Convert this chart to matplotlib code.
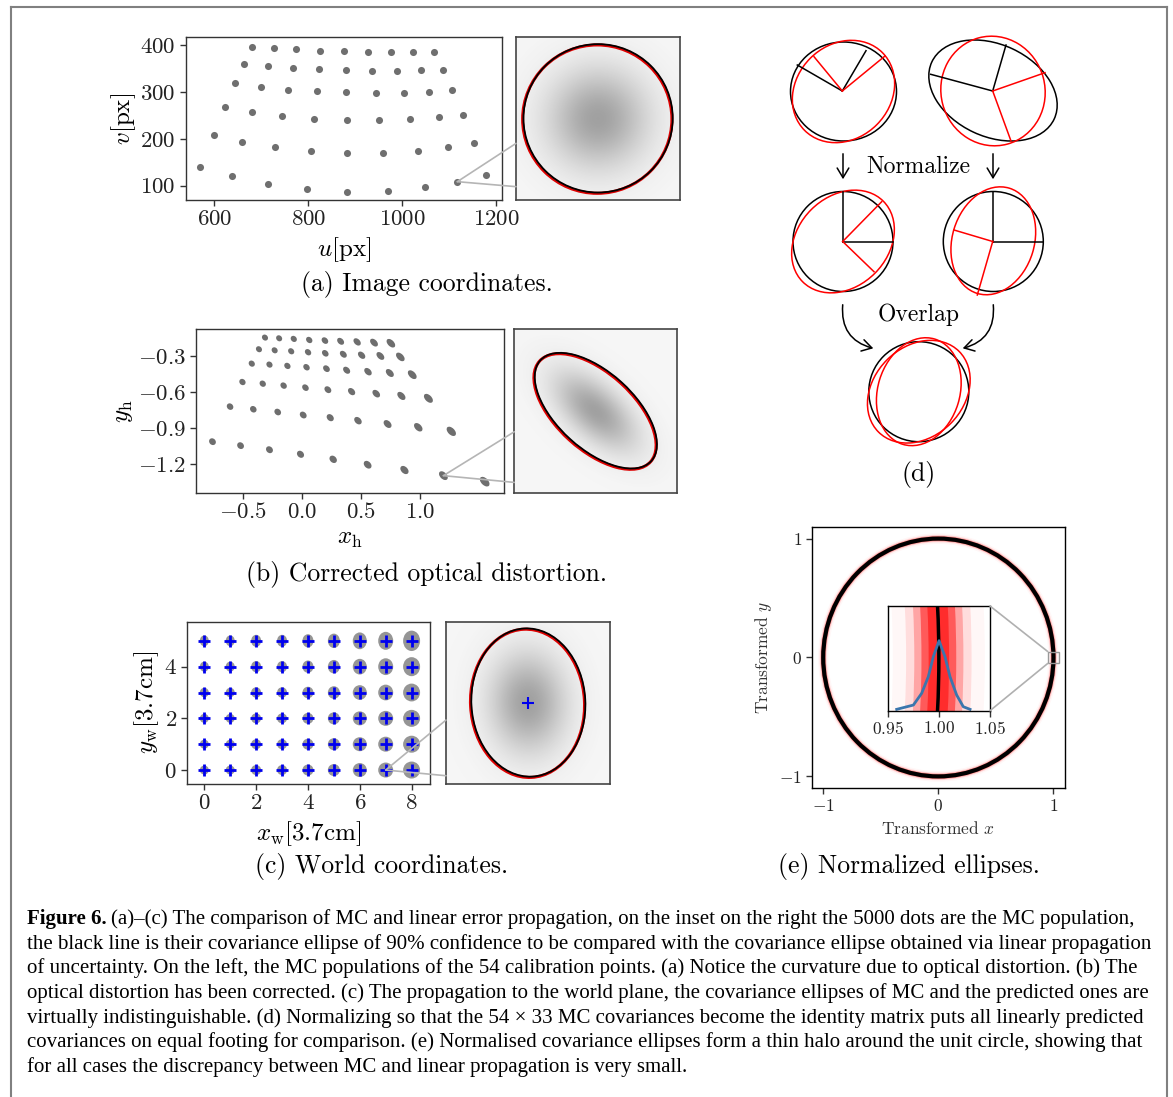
import numpy as np
import matplotlib.pyplot as plt
from matplotlib.patches import Ellipse, Circle, Wedge, Rectangle, FancyArrowPatch, ConnectionPatch
from matplotlib.collections import EllipseCollection
from matplotlib.lines import Line2D

# LaTeX-like look for the panels
plt.rcParams['font.family'] = 'serif'
plt.rcParams['font.serif'] = ['cmr10']
plt.rcParams['mathtext.fontset'] = 'cm'
plt.rcParams['axes.formatter.use_mathtext'] = True

# ---------------- data ----------------
# (a) image coordinates of the 54 calibration points (6 rows x 9 columns)
u_a = [[679.8, 726.0, 774.7, 825.8, 876.8, 927.9, 976.5, 1023.6, 1066.7],
       [663.8, 713.3, 766.7, 822.6, 879.2, 935.9, 989.3, 1039.6, 1085.8],
       [644.7, 698.9, 756.4, 817.8, 880.8, 943.8, 1002.9, 1057.1, 1106.6],
       [622.3, 680.6, 744.4, 813.0, 882.4, 951.0, 1016.4, 1077.0, 1129.7],
       [598.4, 659.8, 730.0, 805.8, 883.2, 959.8, 1032.4, 1096.2, 1152.9],
       [570.5, 637.5, 714.1, 797.8, 883.2, 968.6, 1047.6, 1117.0, 1177.6]]
v_a = [[396.4, 393.6, 390.8, 387.9, 386.5, 385.1, 384.4, 384.4, 384.4],
       [360.2, 355.9, 351.7, 348.1, 346.7, 345.3, 345.3, 346.0, 347.4],
       [318.2, 311.1, 304.7, 301.2, 299.1, 298.3, 298.3, 300.5, 303.3],
       [267.8, 257.1, 248.6, 242.9, 240.1, 239.3, 241.5, 245.7, 251.4],
       [208.1, 193.8, 181.8, 173.2, 169.7, 169.7, 174.0, 181.8, 191.7],
       [140.5, 121.3, 104.3, 92.9, 87.2, 89.3, 97.2, 108.5, 122.8]]

# (b) undistorted homogeneous coordinates
x_b = [[-0.311, -0.191, -0.067, 0.064, 0.197, 0.330, 0.470, 0.613, 0.756],
       [-0.362, -0.229, -0.089, 0.054, 0.200, 0.353, 0.508, 0.667, 0.836],
       [-0.423, -0.273, -0.121, 0.041, 0.210, 0.381, 0.562, 0.747, 0.937],
       [-0.502, -0.330, -0.153, 0.032, 0.222, 0.423, 0.632, 0.845, 1.074],
       [-0.607, -0.410, -0.203, 0.013, 0.242, 0.477, 0.728, 0.988, 1.268],
       [-0.756, -0.518, -0.273, -0.010, 0.267, 0.559, 0.871, 1.201, 1.551]]
y_b = [[-0.147, -0.153, -0.158, -0.167, -0.172, -0.178, -0.183, -0.189, -0.194],
       [-0.244, -0.253, -0.261, -0.269, -0.278, -0.286, -0.294, -0.300, -0.308],
       [-0.364, -0.372, -0.383, -0.394, -0.406, -0.419, -0.431, -0.442, -0.456],
       [-0.517, -0.531, -0.547, -0.564, -0.581, -0.597, -0.614, -0.633, -0.653],
       [-0.722, -0.744, -0.767, -0.792, -0.814, -0.839, -0.867, -0.894, -0.928],
       [-1.014, -1.047, -1.081, -1.119, -1.161, -1.206, -1.250, -1.297, -1.347]]
blob_b_major = [6.5, 6.5, 6.7, 7.0, 7.4, 8.0, 8.6, 9.4, 10.5]      # px, per column
blob_b_minor = [5.6, 5.6, 5.6, 5.6, 5.7, 5.7, 5.8, 5.9, 6.2]
blob_b_row = [1.0, 1.0, 1.02, 1.04, 1.08, 1.12]

# (c) world coordinates
x_c = [0, 1, 2, 3, 4, 5, 6, 7, 8]
y_c = [0, 1, 2, 3, 4, 5]
blob_c_w = [9, 9, 10, 10, 11, 12, 14, 15, 17]   # px, per column
blob_c_row = [1.0, 1.0, 1.0, 1.05, 1.12, 1.2]

# zoomed MC clouds: (semi-axis 1, semi-axis 2, angle) in inset units
cloud_a = (0.913, 0.912, 0)
cloud_b = (0.92, 0.47, -42)
cloud_c = (0.695, 0.914, 3)
zoom_pt_a = (1117.0, 108.5)
zoom_pt_b = (1.201, -1.297)
zoom_pt_c = (7, 0)

# (d) schematic, pixel coordinates: (cx, cy, width, height, angle)
d_black = [(843.5, 91.5, 106, 99, 0), (993.0, 90.5, 135, 92, -25),
           (843.0, 241.5, 100, 100, 0), (993.3, 241.5, 100, 100, 0),
           (918.8, 391.7, 100, 100, 0)]
d_red = [(843.5, 91.5, 110, 94, 45), (993.0, 91.0, 110, 104, -75),
         (843.0, 241.5, 114, 90, 45), (993.3, 240.8, 110, 82, 73),
         (918.8, 391.7, 114, 90, 45), (918.8, 391.7, 110, 82, 73)]
d_spoke_black = [((842.3, 91), (797.3, 65)), ((842.3, 91), (866, 50.7)),
                 ((992.7, 91), (930.7, 74.3)), ((992.7, 91), (1006, 45)),
                 ((842.7, 241.5), (842.7, 191.5)), ((842.7, 241.5), (892.7, 241.5)),
                 ((992.7, 241.5), (992.7, 191.5)), ((992.7, 241.5), (1043.3, 241.5))]
d_spoke_red = [((842.3, 91), (814, 56.7)), ((842.3, 91), (885, 56)),
               ((992.7, 91), (1045, 72.7)), ((992.7, 91), (1011, 141)),
               ((842.7, 241.5), (881.7, 201.7)), ((842.7, 241.5), (874, 271.7)),
               ((992.7, 241.5), (954, 230)), ((992.7, 241.5), (977.3, 295))]

# (e) halo bands (inner radius, outer radius, opacity) and density curve
halo_bands = [(0.955, 1.045, 0.03), (0.968, 1.032, 0.1), (0.976, 1.024, 0.25),
              (0.983, 1.017, 0.45), (0.99, 1.01, 0.5)]
kde_x = [0.9588, 0.9751, 0.9832, 0.9897, 0.9946, 1.0002, 1.0060, 1.0109, 1.0174, 1.0239, 1.0305]
kde_y = [-0.0487, -0.0446, -0.0334, -0.0175, 0.0016, 0.0169, 0.0016, -0.0175, -0.0350, -0.0462, -0.0487]

caption = [
    "(a)–(c) The comparison of MC and linear error propagation, on the inset on the right the 5000 dots are the MC population,",
    "the black line is their covariance ellipse of 90% confidence to be compared with the covariance ellipse obtained via linear propagation",
    "of uncertainty. On the left, the MC populations of the 54 calibration points. (a) Notice the curvature due to optical distortion. (b) The",
    "optical distortion has been corrected. (c) The propagation to the world plane, the covariance ellipses of MC and the predicted ones are",
    "virtually indistinguishable. (d) Normalizing so that the 54 × 33 MC covariances become the identity matrix puts all linearly predicted",
    "covariances on equal footing for comparison. (e) Normalised covariance ellipses form a thin halo around the unit circle, showing that",
    "for all cases the discrepancy between MC and linear propagation is very small.",
]

# ---------------- figure ----------------
W, H = 1173, 1097
fig = plt.figure(figsize=(W / 100, H / 100), dpi=100)


def px_axes(x0, y0, x1, y1):
    return fig.add_axes([x0 / W, 1 - y1 / H, (x1 - x0) / W, (y1 - y0) / H])


def style_main(ax, size=16.5):
    for s in ax.spines.values():
        s.set_color('#333333')
        s.set_linewidth(1.0)
    ax.tick_params(direction='out', length=4, width=1, color='#333333',
                   labelsize=size, labelcolor='#222222', pad=3)


def style_inset(ax):
    ax.set_xticks([])
    ax.set_yticks([])
    for s in ax.spines.values():
        s.set_color('#444444')
        s.set_linewidth(1.2)


def draw_cloud(ax, cloud):
    sa, sb, ang = cloud
    g = np.linspace(-1, 1, 300)
    X, Y = np.meshgrid(g, g)
    t = np.deg2rad(ang)
    xr = X * np.cos(t) + Y * np.sin(t)
    yr = -X * np.sin(t) + Y * np.cos(t)
    d = np.exp(-0.5 * ((xr / (sa / 2.146)) ** 2 + (yr / (sb / 2.146)) ** 2))
    img = np.zeros((300, 300, 4))
    img[..., :3] = 0.42
    img[..., 3] = 0.06 + 0.58 * d
    ax.imshow(img, extent=(-1, 1, -1, 1), origin='lower', aspect='auto',
              interpolation='bilinear')
    ax.add_patch(Ellipse((-0.006, -0.006), 2 * sa, 2 * sb, angle=ang,
                         fill=False, color='#dd0000', lw=2.2))
    ax.add_patch(Ellipse((0.004, 0.004), 2 * sa, 2 * sb, angle=ang,
                         fill=False, color='black', lw=1.3))
    ax.set_xlim(-1, 1)
    ax.set_ylim(-1, 1)
    style_inset(ax)


def connect(ax_main, pt, ax_in, fracs):
    for f in fracs:
        cp = ConnectionPatch(xyA=pt, coordsA=ax_main.transData,
                             xyB=(0, f), coordsB=ax_in.transAxes,
                             color='#b5b5b5', lw=1.2)
        fig.add_artist(cp)


# ----- (a) -----
ax_a = px_axes(185.5, 37.3, 502.3, 200)
ax_a.scatter(np.ravel(u_a), np.ravel(v_a), s=26, color='#6f6f6f', lw=0)
ax_a.set_xlim(538.6, 1212.7)
ax_a.set_ylim(69.4, 416.4)
ax_a.set_xticks([600, 800, 1000, 1200])
ax_a.set_yticks([100, 200, 300, 400])
ax_a.set_xlabel('$u$[px]', fontsize=18)
ax_a.set_ylabel('$v$[px]', fontsize=18, labelpad=2)
style_main(ax_a)
ax_ai = px_axes(516, 37.3, 679.5, 200)
draw_cloud(ax_ai, cloud_a)
connect(ax_a, zoom_pt_a, ax_ai, [0.348, 0.082])
fig.text(427 / W, 1 - 284 / H, '(a) Image coordinates.', fontsize=18.5, ha='center', va='center')

# ----- (b) -----
ax_b = px_axes(195.6, 329.3, 503.8, 492.7)
xb = np.ravel(x_b)
yb = np.ravel(y_b)
maj_b = np.ravel([[m * r for m in blob_b_major] for r in blob_b_row])
min_b = np.ravel([[m * r for m in blob_b_minor] for r in blob_b_row])
ec_b = EllipseCollection(maj_b, min_b, np.full(len(xb), -45.0), units='dots',
                         offsets=np.column_stack([xb, yb]),
                         offset_transform=ax_b.transData,
                         facecolors='#6e6e6e', edgecolors='none')
ax_b.add_collection(ec_b)
ax_b.set_xlim(-0.899, 1.713)
ax_b.set_ylim(-1.439, -0.078)
ax_b.set_xticks([-0.5, 0.0, 0.5, 1.0])
ax_b.set_yticks([-0.3, -0.6, -0.9, -1.2])
ax_b.set_xlabel(r'$x_\mathrm{h}$', fontsize=18)
ax_b.set_ylabel(r'$y_\mathrm{h}$', fontsize=18, labelpad=2)
style_main(ax_b)
ax_bi = px_axes(514.3, 329.3, 676.7, 492.7)
draw_cloud(ax_bi, cloud_b)
connect(ax_b, zoom_pt_b, ax_bi, [0.373, 0.063])
fig.text(427 / W, 1 - 575 / H, '(b) Corrected optical distortion.', fontsize=18.5, ha='center', va='center')

# ----- (c) -----
ax_c = px_axes(186.7, 621.7, 430, 784)
XC, YC = np.meshgrid(x_c, y_c)
wc = np.ravel([[w for w in blob_c_w] for r in blob_c_row])
hc = np.ravel([[w * r for w in blob_c_w] for r in blob_c_row])
ec_c = EllipseCollection(wc, hc, np.zeros(len(wc)), units='dots',
                         offsets=np.column_stack([XC.ravel(), YC.ravel()]),
                         offset_transform=ax_c.transData,
                         facecolors='#8a8a8a', edgecolors='none', alpha=0.9)
ax_c.add_collection(ec_c)
ax_c.plot(XC.ravel(), YC.ravel(), '+', color='#0000ee', ms=8.5, mew=2)
ax_c.set_xlim(-0.68, 8.71)
ax_c.set_ylim(-0.54, 5.74)
ax_c.set_xticks([0, 2, 4, 6, 8])
ax_c.set_yticks([0, 2, 4])
ax_c.set_xlabel(r'$x_\mathrm{w}$[3.7cm]', fontsize=18)
ax_c.set_ylabel(r'$y_\mathrm{w}$[3.7cm]', fontsize=18, labelpad=2)
style_main(ax_c)
ax_ci = px_axes(446, 621.7, 610, 784)
draw_cloud(ax_ci, cloud_c)
ax_ci.plot([0], [0], '+', color='#0000ee', ms=9, mew=1.5)
connect(ax_c, zoom_pt_c, ax_ci, [0.394, 0.051])
fig.text(382 / W, 1 - 866 / H, '(c) World coordinates.', fontsize=18.5, ha='center', va='center')

# ----- (d) schematic -----
ax_d = px_axes(760, 20, 1080, 500)
ax_d.set_xlim(760, 1080)
ax_d.set_ylim(500, 20)
ax_d.axis('off')
for cx, cy, w, h, a in d_black:
    ax_d.add_patch(Ellipse((cx, cy), w, h, angle=-a, fill=False, color='black', lw=1.1))
for cx, cy, w, h, a in d_red:
    ax_d.add_patch(Ellipse((cx, cy), w, h, angle=-a, fill=False, color='#ff0000', lw=1.1))
for p0, p1 in d_spoke_black:
    ax_d.plot([p0[0], p1[0]], [p0[1], p1[1]], color='black', lw=1.1)
for p0, p1 in d_spoke_red:
    ax_d.plot([p0[0], p1[0]], [p0[1], p1[1]], color='#ff0000', lw=1.1)
for xa in [843.0, 993.0]:
    ax_d.add_patch(FancyArrowPatch((xa, 151), (xa, 182), arrowstyle='->,head_length=0.5,head_width=0.3',
                                   mutation_scale=14, color='black', lw=1.1))
ax_d.add_patch(FancyArrowPatch((843, 302), (876, 349), connectionstyle='arc3,rad=0.45',
                               arrowstyle='->,head_length=0.5,head_width=0.3',
                               mutation_scale=14, color='black', lw=1.1))
ax_d.add_patch(FancyArrowPatch((993, 302), (960, 349), connectionstyle='arc3,rad=-0.45',
                               arrowstyle='->,head_length=0.5,head_width=0.3',
                               mutation_scale=14, color='black', lw=1.1))
ax_d.text(918.3, 167, 'Normalize', fontsize=17, ha='center', va='center')
ax_d.text(918.3, 315, 'Overlap', fontsize=17, ha='center', va='center')
ax_d.text(918.3, 475, '(d)', fontsize=18.5, ha='center', va='center')

# ----- (e) -----
ax_e = px_axes(811.7, 526.7, 1065, 788.3)
for r0, r1, al in halo_bands:
    ax_e.add_patch(Wedge((0, 0), r1, 0, 360, width=r1 - r0, color='red', alpha=al, lw=0))
ax_e.add_patch(Circle((0, 0), 1, fill=False, color='black', lw=3))
ax_e.add_patch(Rectangle((0.95, -0.05), 0.1, 0.1, fill=False, ec='#999999', lw=1))
ax_e.set_xlim(-1.1, 1.1)
ax_e.set_ylim(-1.1, 1.1)
ax_e.set_xticks([-1, 0, 1])
ax_e.set_yticks([-1, 0, 1])
ax_e.set_xlabel('Transformed $x$', fontsize=12.5, color='#333333')
ax_e.set_ylabel('Transformed $y$', fontsize=12.5, color='#333333')
style_main(ax_e, size=12.5)
for s in ax_e.spines.values():
    s.set_color('black')

ax_ei = px_axes(887.7, 606, 990, 710.7)
for r0, r1, al in halo_bands:
    ax_ei.add_patch(Wedge((0, 0), r1, 0, 360, width=r1 - r0, color='red', alpha=al, lw=0))
ax_ei.add_patch(Circle((0, 0), 1, fill=False, color='black', lw=2.5))
ax_ei.plot(kde_x, kde_y, color='#3a76ad', lw=2)
ax_ei.set_xlim(0.95, 1.05)
ax_ei.set_ylim(-0.05, 0.05)
ax_ei.set_xticks([0.95, 1.0, 1.05])
ax_ei.set_yticks([])
style_main(ax_ei, size=12.5)
for s in ax_ei.spines.values():
    s.set_color('black')
for fa, pb in [((1, 1), (0.95, 0.05)), ((1, 0), (0.95, -0.05))]:
    fig.add_artist(ConnectionPatch(xyA=fa, coordsA=ax_ei.transAxes, xyB=pb,
                                   coordsB=ax_e.transData, color='#b0b0b0', lw=1.2))
fig.text(909 / W, 1 - 866 / H, '(e) Normalized ellipses.', fontsize=18.5, ha='center', va='center')

# ----- caption -----
renderer = fig.canvas.get_renderer()
cap_fam = 'Liberation Serif'
widths = []
for i, line in enumerate(caption):
    probe = fig.text(0, 0, ('Figure 6. ' if i == 0 else '') + line, fontsize=10, family=cap_fam)
    widths.append(probe.get_window_extent(renderer).width)
    probe.remove()
cap_fs = 10 * 1125 / max(widths)
y0, dy = 919, 24.7
bold = fig.text(27 / W, 1 - y0 / H, 'Figure 6.', fontsize=cap_fs, family=cap_fam,
                weight='bold', va='center')
bw = bold.get_window_extent(renderer).width
for i, line in enumerate(caption):
    x = 27 + (bw + 4 if i == 0 else 0)
    fig.text(x / W, 1 - (y0 + i * dy) / H, line, fontsize=cap_fs, family=cap_fam, va='center')

# frame around the whole figure
for xs, ys in [([11, 11], [7, 1097]), ([11, 1167], [7, 7]), ([1167, 1167], [7, 1097])]:
    fig.add_artist(Line2D([x / W for x in xs], [1 - y / H for y in ys],
                          transform=fig.transFigure, color='#808080', lw=1.5))

fig.savefig('out.png', dpi=100)
